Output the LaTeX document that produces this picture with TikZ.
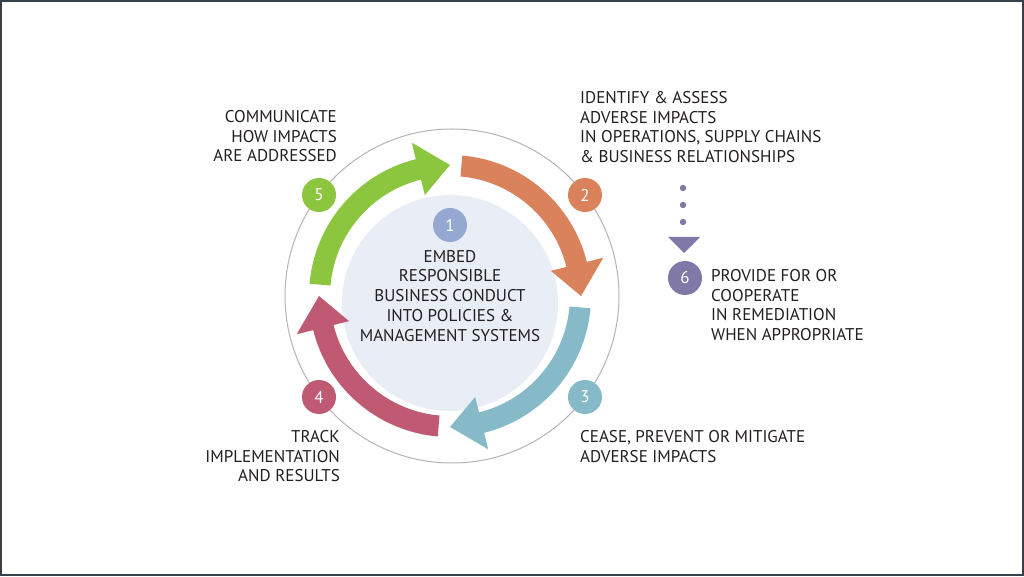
\documentclass[tikz,border=0pt]{standalone}
\usepackage{fontspec}
\setmainfont{PT Sans}
\usetikzlibrary{calc}
\definecolor{orangeA}{HTML}{D9825B}
\definecolor{blueA}{HTML}{86BAC8}
\definecolor{redA}{HTML}{C05A72}
\definecolor{greenA}{HTML}{8CC63F}
\definecolor{purpleA}{HTML}{8079A8}
\definecolor{oneA}{HTML}{95A8D2}
\definecolor{innerA}{HTML}{E9EDF6}
\definecolor{ringA}{HTML}{B4B4B8}
\definecolor{frameA}{HTML}{3A4048}
\definecolor{txtA}{HTML}{231F20}
\newcommand\ddarrow[3]{%
  \pgfmathsetmacro\ab{#3+14}%
  \fill[#1] ($(C)+(#2:141)$) arc[start angle=#2, end angle=\ab, radius=141]
    -- ($(C)+(\ab:158)$) -- ($(C)+(#3:131)$) -- ($(C)+(\ab:104)$)
    -- ($(C)+(\ab:120)$) arc[start angle=\ab, end angle=#2, radius=120] -- cycle;}
\begin{document}
\begin{tikzpicture}[x=1pt,y=1pt,
  lbl/.style={font=\fontsize{17}{19.7}\selectfont, text=txtA, inner sep=0pt},
  num/.style={circle, minimum size=34pt, inner sep=0pt, text=white, font=\fontsize{17}{20}\selectfont}]
\useasboundingbox (0,0) rectangle (1024,576);
\fill[white] (0,0) rectangle (1024,576);
\draw[frameA, line width=2pt] (1,1) rectangle (1023,575);
\coordinate (C) at (450,280);
% outer ring and inner disc
\draw[ringA, line width=1pt] (452,280) circle[radius=167];
\fill[innerA] (450,273) circle[radius=108];
% cycle arrows
\ddarrow{orangeA}{85}{0}
\ddarrow{blueA}{-5}{-90}
\ddarrow{redA}{-95}{-180}
\ddarrow{greenA}{175}{90}
% number circles
\node[num, fill=oneA] (n1) at (450,351) {1};
\node[num, fill=orangeA] (n2) at (585,381) {2};
\node[num, fill=blueA] (n3) at (585,179) {3};
\node[num, fill=redA] (n4) at (319,179) {4};
\node[num, fill=greenA] (n5) at (319,381) {5};
\node[num, fill=purpleA] (n6) at (685,298) {6};
% dotted connector to 6
\foreach \yy in {388,371,354} \fill[purpleA] (683,\yy) circle[radius=3.2];
\coordinate (tri) at (684,323);
\fill[purpleA] (668,339) -- (700,339) -- (tri) -- cycle;
% labels
\node[lbl, align=center, anchor=north] (t1) at (450,326) {EMBED\\RESPONSIBLE\\BUSINESS CONDUCT\\INTO POLICIES \&\\MANAGEMENT SYSTEMS};
\node[lbl, align=left, anchor=north west] (t2) at (580,485) {IDENTIFY \& ASSESS\\ADVERSE IMPACTS\\IN OPERATIONS, SUPPLY CHAINS\\\& BUSINESS RELATIONSHIPS};
\node[lbl, align=left, anchor=north west] (t3) at (580,146) {CEASE, PREVENT OR MITIGATE\\ADVERSE IMPACTS};
\node[lbl, align=right, anchor=north east] (t4) at (340,146) {TRACK\\IMPLEMENTATION\\AND RESULTS};
\node[lbl, align=right, anchor=north east] (t5) at (337,466) {COMMUNICATE\\HOW IMPACTS\\ARE ADDRESSED};
\node[lbl, align=left, anchor=north west] (t6) at (711,307) {PROVIDE FOR OR\\COOPERATE\\IN REMEDIATION\\WHEN APPROPRIATE};
\end{tikzpicture}
\end{document}
